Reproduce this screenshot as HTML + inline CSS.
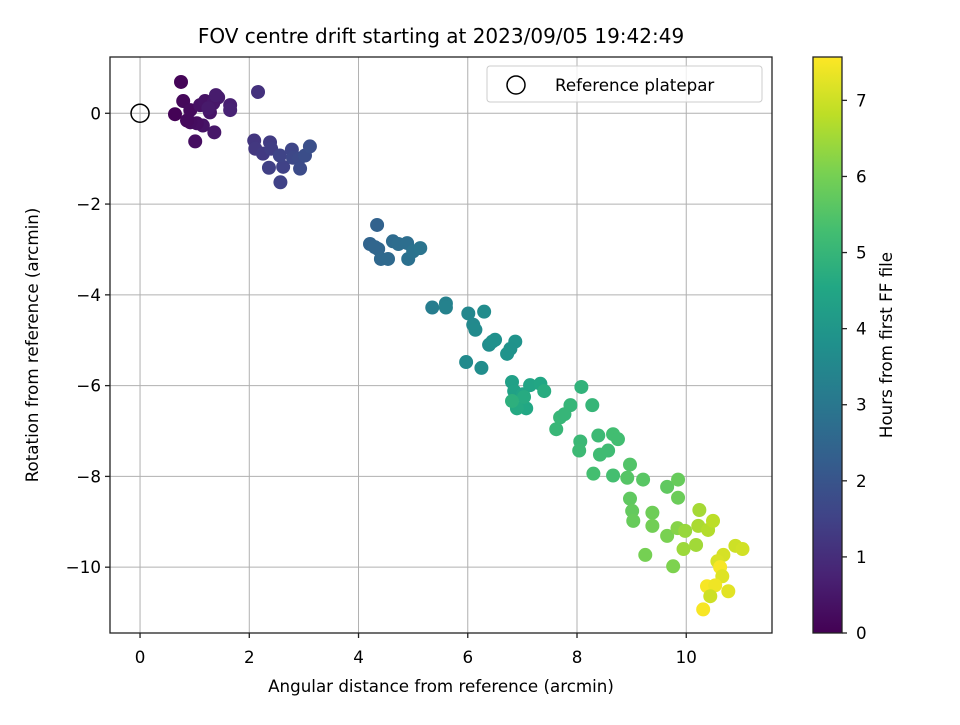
<!DOCTYPE html>
<html><head><meta charset="utf-8"><style>
body{margin:0;background:#fff}
svg{font-family:"DejaVu Sans","Liberation Sans",sans-serif}
</style></head><body>
<svg id="chart" width="960" height="720" xmlns="http://www.w3.org/2000/svg">
<defs><linearGradient id="vir" x1="0" y1="1" x2="0" y2="0"></linearGradient></defs>
<g id="grid"></g><g id="pts"></g><g id="axes"></g>
</svg>
<script>
const xs=[0.75,0.64,0.79,0.92,1.01,1.10,1.19,1.28,1.36,1.43,1.15,1.04,0.92,1.65,1.65,1.34,1.25,0.86,1.39,2.16,
2.09,2.11,2.25,2.38,2.40,2.36,2.62,2.56,2.78,2.80,2.91,2.93,3.02,3.11,2.57,
4.34,4.21,4.36,4.41,4.54,4.63,4.73,4.89,4.91,5.00,5.13,4.30,
5.35,5.60,5.60,
6.01,6.10,6.14,6.30,6.39,6.45,6.50,6.87,5.97,6.25,6.78,6.72,
6.81,6.85,7.01,7.14,7.33,7.07,6.90,7.03,7.40,6.81,
8.08,8.28,7.88,7.69,7.62,8.06,8.04,8.39,8.42,8.57,8.66,8.75,8.30,8.66,7.77,
8.97,8.92,9.21,9.65,9.85,9.85,8.97,9.01,9.03,9.38,9.38,9.25,9.65,9.76,9.84,
9.98,9.95,10.18,10.24,10.22,10.40,10.49,
10.90,11.03,10.68,10.57,10.62,10.66,10.77,10.38,10.53,10.44,10.31];
const ys=[0.69,-0.02,0.27,0.07,-0.62,0.18,0.27,0.02,-0.42,0.35,-0.27,-0.22,-0.20,0.18,0.07,0.22,0.11,-0.16,0.40,0.47,
-0.60,-0.78,-0.89,-0.64,-0.78,-1.20,-1.18,-0.93,-0.80,-0.98,-1.00,-1.22,-0.93,-0.73,-1.52,
-2.46,-2.88,-2.99,-3.21,-3.21,-2.82,-2.88,-2.86,-3.21,-3.04,-2.97,-2.95,
-4.28,-4.19,-4.28,
-4.41,-4.66,-4.77,-4.37,-5.10,-5.03,-4.99,-5.03,-5.48,-5.61,-5.19,-5.30,
-5.92,-6.12,-6.19,-5.99,-5.96,-6.50,-6.50,-6.25,-6.12,-6.34,
-6.03,-6.43,-6.43,-6.70,-6.96,-7.23,-7.43,-7.10,-7.52,-7.43,-7.07,-7.18,-7.94,-7.98,-6.63,
-7.74,-8.03,-8.07,-8.23,-8.07,-8.47,-8.49,-8.76,-8.98,-8.80,-9.09,-9.73,-9.31,-9.98,-9.14,
-9.20,-9.60,-9.51,-8.74,-9.09,-9.18,-8.98,
-9.53,-9.60,-9.73,-9.87,-10.00,-10.20,-10.53,-10.42,-10.40,-10.64,-10.93];
const hrs=[0.1,0.05,0.15,0.2,0.3,0.35,0.4,0.45,0.5,0.6,0.4,0.3,0.25,0.7,0.75,0.5,0.55,0.2,0.6,1.1,
1.2,1.25,1.3,1.35,1.4,1.45,1.5,1.55,1.6,1.65,1.7,1.75,1.8,1.85,1.5,
2.4,2.45,2.5,2.55,2.6,2.65,2.7,2.75,2.8,2.85,2.9,2.5,
3.2,3.3,3.35,
3.5,3.55,3.6,3.65,3.7,3.75,3.8,3.9,3.6,3.7,3.85,3.9,
4.3,4.35,4.4,4.45,4.5,4.55,4.6,4.65,4.7,4.8,
4.9,5.0,5.0,5.05,5.05,5.1,5.15,5.15,5.2,5.2,5.25,5.25,5.3,5.3,5.0,
5.5,5.55,5.6,5.7,5.8,5.85,5.7,5.75,5.8,5.9,5.95,6.0,6.05,6.1,6.2,
6.4,6.45,6.5,6.55,6.6,6.7,6.8,
7.0,7.05,7.1,7.15,7.5,7.2,7.25,7.5,7.4,7.0,7.5];
const xTicks=[0,2,4,6,8,10], yTicks=[0,-2,-4,-6,-8,-10], cTicks=[0,1,2,3,4,5,6,7];
const X0=110,X1=772,Y0=57,Y1=633;
const xmin=-0.55,xmax=11.57,ymin=-11.45,ymax=1.24,cmax=7.57;
const sx=v=>X0+(v-xmin)/(xmax-xmin)*(X1-X0), sy=v=>Y1-(v-ymin)/(ymax-ymin)*(Y1-Y0);
const vir=[[68,1,84],[72,35,116],[64,67,135],[52,94,141],[41,120,142],[32,144,140],[34,167,132],[68,190,112],[121,209,81],[189,222,38],[253,231,37]];
function cmap(t){t=Math.max(0,Math.min(1,t))*10;const i=Math.min(9,Math.floor(t)),f=t-i,a=vir[i],b=vir[i+1];
return `rgb(${a.map((c,k)=>Math.round(c+(b[k]-c)*f)).join(',')})`;}
const NS="http://www.w3.org/2000/svg";
function mk(tag,at,parent,txt){const e=document.createElementNS(NS,tag);for(const k in at)e.setAttribute(k,at[k]);if(txt!==undefined)e.textContent=txt;parent.appendChild(e);return e;}
const G=document.getElementById('grid'),P=document.getElementById('pts'),A=document.getElementById('axes');
const grad=document.getElementById('vir');
vir.forEach((c,i)=>mk('stop',{offset:(i*10)+'%','stop-color':`rgb(${c.join(',')})`},grad));
const FS=16.7;
xTicks.forEach(v=>{const l=mk('line',{x1:sx(v),x2:sx(v),y1:Y0,y2:Y1,stroke:'#b0b0b0','stroke-width':1},G);});
yTicks.forEach(v=>{const l=mk('line',{x1:X0,x2:X1,y1:sy(v),y2:sy(v),stroke:'#b0b0b0','stroke-width':1},G);});
xs.forEach((x,i)=>{const c=mk('circle',{cx:sx(x),cy:sy(ys[i]),r:7,fill:cmap(hrs[i]/cmax)},P);

});
const ref=mk('circle',{cx:sx(0),cy:sy(0),r:9,fill:'none',stroke:'#000','stroke-width':1.5},P);


const fr=mk('rect',{x:X0,y:Y0,width:X1-X0,height:Y1-Y0,fill:'none',stroke:'#222','stroke-width':1.3},A);

xTicks.forEach(v=>{mk('line',{x1:sx(v),x2:sx(v),y1:Y1,y2:Y1+5,stroke:'#222','stroke-width':1.3},A);
const t=mk('text',{x:sx(v),y:Y1+30,'text-anchor':'middle','font-size':FS},A,String(v));
});
yTicks.forEach(v=>{mk('line',{x1:X0-5,x2:X0,y1:sy(v),y2:sy(v),stroke:'#222','stroke-width':1.3},A);
const t=mk('text',{x:X0-9,y:sy(v)+6,'text-anchor':'end','font-size':FS},A,v<0?'\u2212'+(-v):String(v));
});
let t=mk('text',{x:441,y:43,'text-anchor':'middle','font-size':20},A,'FOV centre drift starting at 2023/09/05 19:42:49');

t=mk('text',{x:441,y:692,'text-anchor':'middle','font-size':FS},A,'Angular distance from reference (arcmin)');

t=mk('text',{x:38,y:345,'text-anchor':'middle','font-size':FS,transform:'rotate(-90 38 345)'},A,'Rotation from reference (arcmin)');

const lg=mk('g',{},A);
mk('rect',{x:487,y:66,width:275,height:36,rx:3,fill:'#fff','fill-opacity':0.8,stroke:'#ccc'},lg);
mk('circle',{cx:516,cy:85,r:9,fill:'none',stroke:'#000','stroke-width':1.5},lg);
t=mk('text',{x:555,y:91,'font-size':FS},lg,'Reference platepar');

const CX0=813,CX1=842;
const cb=mk('rect',{x:CX0,y:Y0,width:CX1-CX0,height:Y1-Y0,fill:'url(#vir)',stroke:'#222','stroke-width':1.3},A);

const sc=v=>Y1-v/cmax*(Y1-Y0);
cTicks.forEach(v=>{mk('line',{x1:CX1,x2:CX1+5,y1:sc(v),y2:sc(v),stroke:'#222','stroke-width':1.3},A);
const tt=mk('text',{x:CX1+14,y:sc(v)+6,'font-size':FS},A,String(v));
});
t=mk('text',{x:892,y:345,'text-anchor':'middle','font-size':FS,transform:'rotate(-90 892 345)'},A,'Hours from first FF file');

</script>
</body></html>
